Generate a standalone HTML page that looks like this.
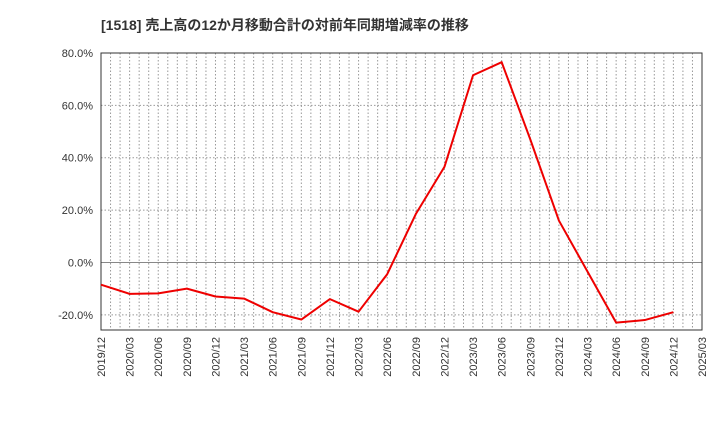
<!DOCTYPE html>
<html><head><meta charset="utf-8"><style>
body{margin:0;background:#fff;}
svg text{font-family:"Liberation Sans","Noto Sans CJK JP",sans-serif;}
</style></head><body>
<svg id="chart" width="720" height="440" xmlns="http://www.w3.org/2000/svg">
<text x="101" y="30" font-size="14" font-weight="bold" fill="#333">[1518]  売上高の12か月移動合計の対前年同期増減率の推移</text>
<g id="grid"></g><g id="axes"></g><g id="series"></g>
</svg>
<script>
const categories=["2019/12","2020/03","2020/06","2020/09","2020/12","2021/03","2021/06","2021/09","2021/12","2022/03","2022/06","2022/09","2022/12","2023/03","2023/06","2023/09","2023/12","2024/03","2024/06","2024/09","2024/12","2025/03"];
const values=[-8.5,-12,-11.8,-10,-13,-13.8,-19,-21.8,-14,-18.8,-4.5,18.5,36.5,71.5,76.5,47,16,-3.5,-23,-22,-19];
const yTicks=[-20,0,20,40,60,80];
const X0=101,X1=702,Y0=53,Y1=330,VMAX=80,VMIN=-25.8;
const ns="http://www.w3.org/2000/svg";
const step=(X1-X0)/(categories.length-1);
const xs=i=>X0+i*step;
const ys=v=>Y0+(VMAX-v)/(VMAX-VMIN)*(Y1-Y0);
function mk(t,a,p){const e=document.createElementNS(ns,t);for(const k in a)e.setAttribute(k,a[k]);p.appendChild(e);return e;}
const grid=document.getElementById('grid'),axes=document.getElementById('axes'),ser=document.getElementById('series');
for(let m=1;m<(categories.length-1)*3;m++){const x=X0+m*step/3;
const l=mk('line',{x1:x,x2:x,y1:Y0,y2:Y1,stroke:'#999','stroke-dasharray':'1.5,2','stroke-width':1},grid);

}
yTicks.forEach(v=>{const y=ys(v);
const l=mk('line',{x1:X0,x2:X1,y1:y,y2:y,stroke:v===0?'#888':'#999','stroke-dasharray':v===0?'':'1.5,2','stroke-width':1},grid);


const t=mk('text',{x:X0-8,y:y+4,'text-anchor':'end','font-size':11,fill:'#333'},axes);t.textContent=v.toFixed(1)+'%';

});
const r=mk('rect',{x:X0,y:Y0,width:X1-X0,height:Y1-Y0,fill:'none',stroke:'#333','stroke-width':1},axes);


categories.forEach((c,i)=>{const x=xs(i);
const t=mk('text',{x:0,y:0,'text-anchor':'end','font-size':11,fill:'#333',transform:`translate(${x+4},${Y1+7}) rotate(-90)`},axes);t.textContent=c;

});
const p=mk('polyline',{points:values.map((v,i)=>xs(i)+','+ys(v)).join(' '),fill:'none',stroke:'#ee0000','stroke-width':2,'stroke-linejoin':'round'},ser);


</script>
</body></html>
